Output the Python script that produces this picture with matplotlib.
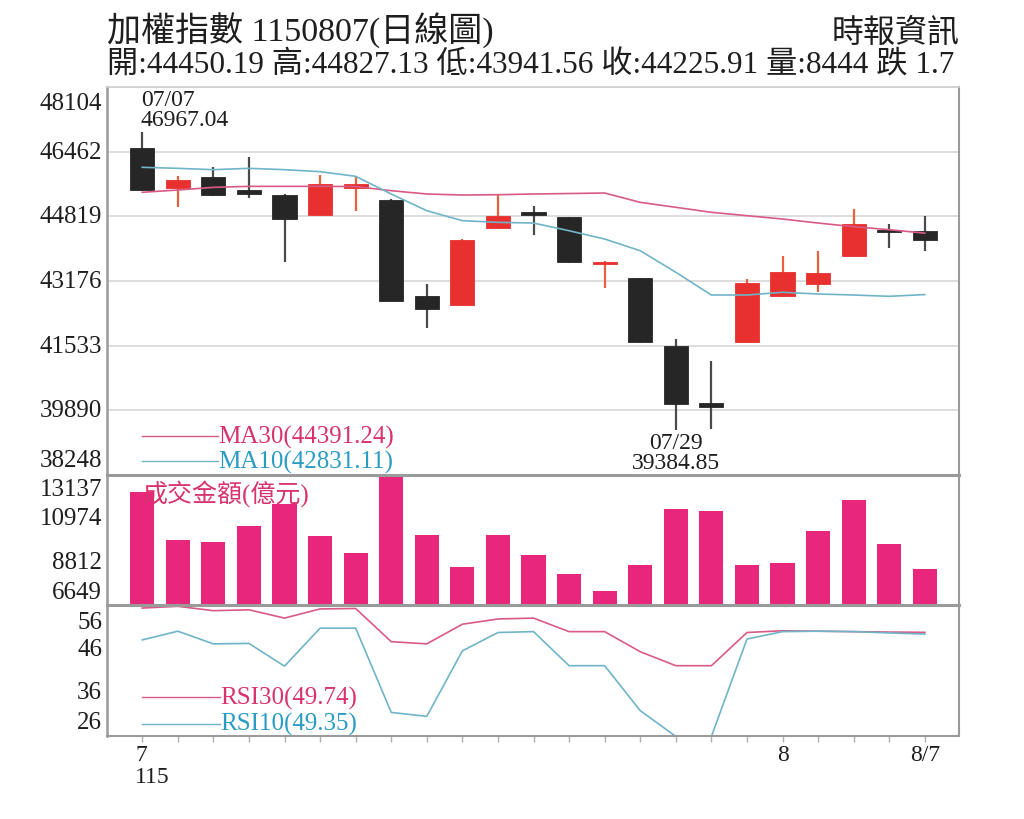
import matplotlib
matplotlib.use("Agg")
import matplotlib.pyplot as plt
import matplotlib.transforms as mtransforms
import numpy as np

plt.rcParams['font.family'] = ['Liberation Serif', 'Noto Sans CJK TC', 'DejaVu Sans']

# ---------------- data ----------------
opens = [46546, 45531, 45810, 45495, 45361, 44852, 45531, 45241, 42803, 42574, 44514, 44921,
         44794, 43600, 43244, 41517, 40077, 41619, 42787, 43100, 43818, 44479, 44450.19]
highs = [46967.04, 45835, 46064, 46333, 45380, 45869, 45851, 45270, 43100, 44240, 45368, 45089,
         44810, 43680, 43260, 41703, 41151, 43227, 43818, 43945, 45005, 44624, 44827.13]
lows = [45460, 45048, 45340, 45277, 43666, 44840, 44962, 42660, 41974, 42560, 44500, 44344,
        43630, 42990, 41600, 39384.85, 39420, 41600, 42770, 42904, 43810, 44006, 43941.56]
closes = [45487, 45741, 45361, 45386, 44750, 45640, 45640, 42676, 42465, 44225, 44835, 44852,
          43651, 43666, 41619, 40051, 39968, 43125, 43412, 43371, 44624, 44413, 44225.91]
ma30 = [45429, 45487, 45555, 45580, 45580, 45580, 45575, 45470, 45386, 45360, 45368, 45386,
        45398, 45411, 45174, 45048, 44921, 44835, 44750, 44648, 44555, 44479, 44391.24]
ma10 = [46064, 46038, 46004, 46038, 46004, 45953, 45835, 45386, 44962, 44708, 44666, 44648,
        44453, 44242, 43945, 43397, 42820, 42820, 42889, 42846, 42820, 42787, 42831.11]
volume = [12273, 9908, 9778, 10606, 11689, 10107, 9244, 13137, 10142, 8560, 10142, 9159,
          8211, 7348, 8645, 11439, 11324, 8645, 8745, 10357, 11903, 9693, 8444]
rsi30 = [55.3, 55.7, 54.7, 54.9, 53.0, 55.1, 55.2, 47.6, 47.1, 51.6, 52.8, 53.0,
         49.9, 49.9, 45.3, 42.1, 42.1, 49.7, 50.1, 50.0, 49.9, 49.8, 49.74]
rsi10 = [48.0, 50.0, 47.1, 47.2, 42.0, 50.7, 50.7, 31.4, 30.5, 45.5, 49.7, 49.9,
         42.1, 42.1, 31.8, 25.9, 25.9, 48.2, 49.9, 50.0, 49.9, 49.6, 49.35]

price_ticks = [48104, 46462, 44819, 43176, 41533, 39890, 38248]
vol_ticks = [13137, 10974, 8812, 6649]
rsi_ticks = [56, 46, 36, 26]
xtick_idx = [0, 18, 22]
xtick_text = ['7\n115', '8', '8/7']

title = '加權指數 1150807(日線圖)'
subtitle = '開:44450.19 高:44827.13 低:43941.56 收:44225.91 量:8444 跌 1.7'
source = '時報資訊'
hi_label = ('07/07', '46967.04')
lo_label = ('07/29', '39384.85')
ma30_label = 'MA30(44391.24)'
ma10_label = 'MA10(42831.11)'
vol_label = '成交金額(億元)'
rsi30_label = 'RSI30(49.74)'
rsi10_label = 'RSI10(49.35)'

# ---------------- style ----------------
UP = '#e8302e'
DOWN = '#262626'
UP_WICK = '#e8603e'
DOWN_WICK = '#4a4a4a'
VOL = '#e8277c'
PINK_LINE = '#d95a86'
BLUE_LINE = '#70b4c8'
PINK_TXT = '#d8336a'
BLUE_TXT = '#2a9cc4'
TXT = '#1e1e1e'
SPINE = '#9a9a9a'

W, H = 1024, 820
fig = plt.figure(figsize=(W / 100, H / 100), dpi=100)

def rect(top, bot, left=107, right=959):
    return [left / W, 1 - bot / H, (right - left) / W, (bot - top) / H]

ax_p = fig.add_axes(rect(88, 476))
ax_v = fig.add_axes(rect(476, 606), sharex=ax_p)
ax_r = fig.add_axes(rect(606, 737), sharex=ax_p)
ax_p.set_zorder(5)
ax_v.set_zorder(3)
ax_r.set_zorder(2)

x = np.arange(len(opens))
n = len(opens)
bw = 0.68

# ---------------- price panel ----------------
o = np.array(opens); c = np.array(closes)
up = c >= o
body_col = np.where(up, UP, DOWN)
wick_col = np.where(up, UP_WICK, DOWN_WICK)
ax_p.vlines(x, lows, highs, colors=wick_col, lw=1.6, zorder=2)
heights = c - o
heights = np.where(np.abs(heights) < 40, np.sign(heights + 1e-9) * 40, heights)
ax_p.bar(x, heights, bottom=o, width=bw, color=body_col, edgecolor=body_col, lw=0.6, zorder=3)
ax_p.plot(x, ma30, color=PINK_LINE, lw=1.2, zorder=4)
ax_p.plot(x, ma10, color=BLUE_LINE, lw=1.2, zorder=4)

ax_p.set_ylim(price_ticks[-1], price_ticks[0])
ax_p.set_xlim(-0.99, n - 1 + 0.96)
ax_p.set_yticks(price_ticks)
ax_p.yaxis.grid(True, color='#dadada', lw=1.3)
ax_p.set_axisbelow(True)

# annotations of high / low
ax_p.text(x[0], highs[0], hi_label[0] + '\n' + hi_label[1], ha='left', va='bottom',
          fontsize=17, color=TXT, linespacing=0.95, zorder=6, clip_on=False,
          transform=mtransforms.offset_copy(ax_p.transData, fig=fig, x=-1, y=1, units='points'))
imin = int(np.argmin(lows))
ax_p.text(x[imin], lows[imin], lo_label[0] + '\n' + lo_label[1], ha='center', va='top',
          fontsize=17, color=TXT, linespacing=0.95, zorder=6, clip_on=False,
          bbox=dict(facecolor='white', edgecolor='none', pad=0.5),
          transform=mtransforms.offset_copy(ax_p.transData, fig=fig, x=0, y=-1, units='points'))

# MA legend
ax_p.plot([0.041, 0.130], [0.1005, 0.1005], transform=ax_p.transAxes, color=PINK_LINE, lw=1.0)
ax_p.plot([0.041, 0.130], [0.036, 0.036], transform=ax_p.transAxes, color=BLUE_LINE, lw=1.0)
ax_p.text(0.130, 0.1005, ma30_label, transform=ax_p.transAxes, color=PINK_TXT, fontsize=18,
          ha='left', va='center')
ax_p.text(0.130, 0.036, ma10_label, transform=ax_p.transAxes, color=BLUE_TXT, fontsize=18,
          ha='left', va='center')

# ---------------- volume panel ----------------
ax_v.bar(x, volume, width=bw, color=VOL, zorder=2)
ax_v.set_ylim(vol_ticks[-1], vol_ticks[0])
ax_v.set_yticks(vol_ticks)
ax_v.text(0.041, 0.862, vol_label, transform=ax_v.transAxes, color=PINK_TXT, fontsize=18,
          ha='left', va='center', zorder=5)

# ---------------- RSI panel ----------------
ax_r.plot(x, rsi30, color=PINK_LINE, lw=1.2)
ax_r.plot(x, rsi10, color=BLUE_LINE, lw=1.2)
ax_r.set_ylim(rsi_ticks[-1], rsi_ticks[0])
ax_r.set_yticks(rsi_ticks)
ax_r.plot([0.041, 0.133], [0.298, 0.298], transform=ax_r.transAxes, color=PINK_LINE, lw=1.0)
ax_r.plot([0.041, 0.133], [0.092, 0.092], transform=ax_r.transAxes, color=BLUE_LINE, lw=1.0)
ax_r.text(0.133, 0.298, rsi30_label, transform=ax_r.transAxes, color=PINK_TXT, fontsize=18,
          ha='left', va='center')
ax_r.text(0.133, 0.092, rsi10_label, transform=ax_r.transAxes, color=BLUE_TXT, fontsize=18,
          ha='left', va='center')

# ---------------- axes styling ----------------
def ylabels(ax, ticks, top_off, bot_off):
    trans = mtransforms.blended_transform_factory(ax.transAxes, ax.transData)
    for i, v in enumerate(ticks):
        if i == 0:
            va, dy = 'top', -top_off
        elif i == len(ticks) - 1:
            va, dy = 'bottom', bot_off
        else:
            va, dy = 'center', 0
        t = mtransforms.offset_copy(trans, fig=fig, x=-3.5, y=dy, units='points')
        ax.text(0, v, str(v), transform=t, ha='right', va=va, fontsize=18, color=TXT,
                clip_on=False)
    ax.tick_params(axis='y', length=0, labelleft=False)

ylabels(ax_p, price_ticks, 3.5, 3.0)
ylabels(ax_v, vol_ticks, 2.0, 1.5)
ylabels(ax_r, rsi_ticks, 4.0, 2.0)

for ax in (ax_p, ax_v, ax_r):
    for s in ax.spines.values():
        s.set_color(SPINE)
        s.set_linewidth(1.5)
    ax.spines['left'].set_linewidth(1.8)
    ax.tick_params(axis='x', labelbottom=False, length=0)
    ax.set_facecolor('none')

ax_p.spines['top'].set_color('#cfcfcf')
ax_p.spines['top'].set_linewidth(1.2)
ax_p.spines['bottom'].set_linewidth(2.2)
ax_v.spines['top'].set_visible(False)
ax_v.spines['bottom'].set_linewidth(2.2)
ax_r.spines['top'].set_visible(False)

ax_r.set_xticks(x)
ax_r.tick_params(axis='x', length=4, width=1.0, color='#b0b0b0', direction='out',
                 labelbottom=False)

xt = mtransforms.blended_transform_factory(ax_r.transData, ax_r.transAxes)
for idx, lab in zip(xtick_idx, xtick_text):
    if '\n' in lab:
        tr = mtransforms.offset_copy(xt, fig=fig, x=-5, y=-6, units='points')
        ax_r.text(x[idx], 0, lab, transform=tr, ha='left', va='top', fontsize=17,
                  color=TXT, linespacing=1.05, multialignment='left', clip_on=False)
    else:
        tr = mtransforms.offset_copy(xt, fig=fig, x=0, y=-6, units='points')
        ax_r.text(x[idx], 0, lab, transform=tr, ha='center', va='top', fontsize=17,
                  color=TXT, clip_on=False)

# ---------------- titles ----------------
fig.text(107 / W, 1 - 31 / H, title, ha='left', va='center', fontsize=24.5, color=TXT)
fig.text(107 / W, 1 - 66 / H, subtitle, ha='left', va='center', fontsize=22.5, color=TXT)
fig.text(960 / W, 1 - 34 / H, source, ha='right', va='center', fontsize=23, color=TXT)

fig.savefig('out.png', dpi=100, facecolor='white')
